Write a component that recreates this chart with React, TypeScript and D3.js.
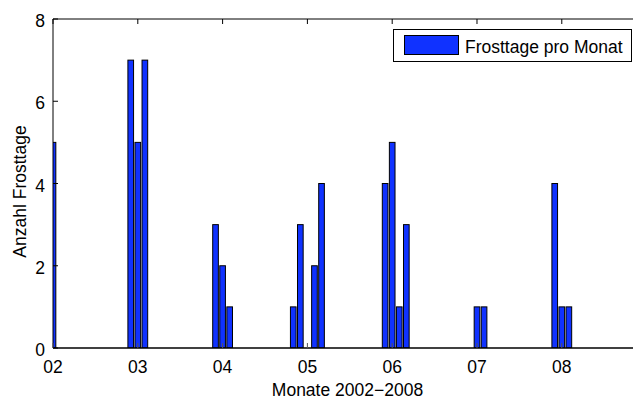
import React from "react";
import * as d3 from "d3";

const months: string[] = [
  "2002-01",
  "2002-12", "2003-01", "2003-02",
  "2003-12", "2004-01", "2004-02",
  "2004-11", "2004-12", "2005-02", "2005-03",
  "2005-12", "2006-01", "2006-02", "2006-03",
  "2007-01", "2007-02",
  "2007-12", "2008-01", "2008-02",
];
const frostDays: number[] = [
  5,
  7, 5, 7,
  3, 2, 1,
  1, 3, 2, 4,
  4, 5, 1, 3,
  1, 1,
  4, 1, 1,
];
const xTickLabels: string[] = ["02", "03", "04", "05", "06", "07", "08"];
const yTicks: number[] = [0, 2, 4, 6, 8];
const legendLabel = "Frosttage pro Monat";
const xLabel = "Monate 2002\u22122008";
const yLabel = "Anzahl Frosttage";

const W = 633;
const H = 402;
const L = 53;
const T = 19;
const B = 348;
const R = 642;
const FONT = "'Liberation Sans', Arial, Helvetica, sans-serif";
const FS = 17.5;
const BLUE = "#1032ff";

function monthIndex(m: string): number {
  const [y, mo] = m.split("-").map(Number);
  return (y - 2002) * 12 + (mo - 1);
}

export default function App() {
  const x = d3.scaleLinear().domain([0, 83.35]).range([L, R]);
  const y = d3.scaleLinear().domain([0, 8]).range([B, T]);
  const bw = (x(1) - x(0)) * 0.8;
  const tickLen = 5;

  return (
    <svg
      width={W}
      height={H}
      style={{ position: "absolute", left: 0, top: 0, background: "#fff" }}
      fontFamily={FONT}
    >
      <defs>
        <clipPath id="plotClip">
          <rect x={L} y={T} width={R - L} height={B - T} />
        </clipPath>
      </defs>
      <rect x={0} y={0} width={W} height={H} fill="#fff" />
      <g clipPath="url(#plotClip)">
        {months.map((m, i) => {
          const cx = x(monthIndex(m));
          return (
            <rect
              key={m}
              x={cx - bw / 2}
              y={y(frostDays[i])}
              width={bw}
              height={y(0) - y(frostDays[i])}
              fill={BLUE}
              stroke="#000"
              strokeWidth={1}
            />
          );
        })}
      </g>
      {/* axes lines */}
      <line x1={L} x2={R} y1={T} y2={T} stroke="#000" strokeWidth={1} />
      <line x1={L} x2={L} y1={T} y2={B} stroke="#000" strokeWidth={1} />
      <line x1={L} x2={R} y1={B} y2={B} stroke="#000" strokeWidth={1.6} />
      {/* x ticks */}
      {xTickLabels.map((lab, i) => {
        const px = x(i * 12);
        return (
          <g key={lab}>
            <line x1={px} x2={px} y1={T} y2={T + tickLen} stroke="#000" />
            <line x1={px} x2={px} y1={B} y2={B - tickLen} stroke="#555" />
            <text
              x={px}
              y={373.3}
              textAnchor="middle"
              fontSize={FS}
              fill="#000"
            >
              {lab}
            </text>
          </g>
        );
      })}
      {/* y ticks */}
      {yTicks.map((v) => (
        <g key={v}>
          <line x1={L} x2={L + tickLen} y1={y(v)} y2={y(v)} stroke="#000" />
          <text
            x={45}
            y={y(v) + 8}
            textAnchor="end"
            fontSize={FS}
            fill="#000"
          >
            {v}
          </text>
        </g>
      ))}
      {/* axis labels */}
      <text x={347.5} y={396} textAnchor="middle" fontSize={FS} fill="#000">
        {xLabel}
      </text>
      <text
        transform={`translate(26, 191.5) rotate(-90)`}
        textAnchor="middle"
        fontSize={FS}
        fill="#000"
      >
        {yLabel}
      </text>
      {/* legend */}
      <rect x={393.5} y={29.5} width={238} height={32} fill="#fff" stroke="#000" strokeWidth={1} />
      <rect x={404.5} y={35.5} width={54} height={19} fill={BLUE} stroke="#000" strokeWidth={1} />
      <text x={465} y={53.3} fontSize={FS} fill="#000">
        {legendLabel}
      </text>
    </svg>
  );
}
